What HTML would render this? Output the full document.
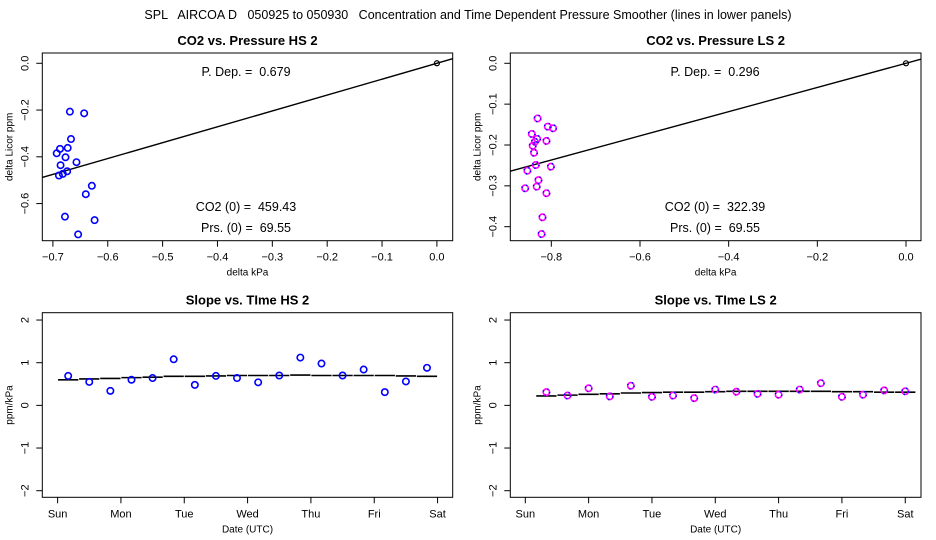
<!DOCTYPE html>
<html><head><meta charset="utf-8">
<style>
html,body{margin:0;padding:0;background:#fff;}
svg{display:block;font-family:"Liberation Sans",Arial,sans-serif;}
text{white-space:pre;}
</style></head>
<body>
<svg id="c" width="936" height="540" viewBox="0 0 936 540" xmlns="http://www.w3.org/2000/svg">
<text x="468" y="19" font-size="12.5" text-anchor="middle" xml:space="preserve">SPL   AIRCOA D   050925 to 050930   Concentration and Time Dependent Pressure Smoother (lines in lower panels)</text>
</svg>
<script>
// Panel 1: CO2 vs Pressure HS 2
const hsPx = [-0.669,-0.643,-0.667,-0.673,-0.687,-0.693,-0.677,-0.657,-0.686,-0.674,-0.682,-0.689,-0.629,-0.640,-0.678,-0.624,-0.654,0.0];
const hsPy = [-0.207,-0.214,-0.324,-0.362,-0.366,-0.385,-0.402,-0.423,-0.436,-0.462,-0.473,-0.480,-0.524,-0.560,-0.656,-0.671,-0.732,0.0];
const hsSlope = 0.679;
// Panel 2: CO2 vs Pressure LS 2
const lsPx = [-0.831,-0.808,-0.796,-0.844,-0.832,-0.811,-0.837,-0.842,-0.839,-0.801,-0.835,-0.854,-0.829,-0.859,-0.833,-0.811,-0.820,-0.822,0.0];
const lsPy = [-0.135,-0.155,-0.159,-0.173,-0.185,-0.190,-0.192,-0.202,-0.219,-0.253,-0.249,-0.263,-0.286,-0.306,-0.302,-0.318,-0.377,-0.418,0.0];
const lsSlope = 0.296;
// Panel 3: Slope vs Time HS 2
const hsDays = [0.167,0.5,0.833,1.167,1.5,1.833,2.167,2.5,2.833,3.167,3.5,3.833,4.167,4.5,4.833,5.167,5.5,5.833];
const hsSlopes = [0.69,0.55,0.34,0.60,0.64,1.08,0.48,0.69,0.64,0.54,0.70,1.12,0.98,0.70,0.84,0.31,0.56,0.88];
const hsSmooth = [0.60,0.62,0.63,0.65,0.66,0.68,0.68,0.69,0.70,0.70,0.70,0.71,0.70,0.70,0.70,0.70,0.69,0.68];
// Panel 4: Slope vs Time LS 2
const lsDays = [0.333,0.667,1.0,1.333,1.667,2.0,2.333,2.667,3.0,3.333,3.667,4.0,4.333,4.667,5.0,5.333,5.667,6.0];
const lsSlopes = [0.31,0.23,0.40,0.21,0.46,0.20,0.23,0.17,0.37,0.32,0.27,0.25,0.37,0.52,0.20,0.25,0.35,0.33];
const lsSmooth = [0.22,0.24,0.26,0.27,0.29,0.30,0.31,0.31,0.32,0.33,0.33,0.33,0.33,0.33,0.32,0.32,0.31,0.31];
const dayLabels = ["Sun","Mon","Tue","Wed","Thu","Fri","Sat"];
const hsXTicks = [-0.7,-0.6,-0.5,-0.4,-0.3,-0.2,-0.1,0.0];
const hsYTicks = [0.0,-0.2,-0.4,-0.6];
const lsXTicks = [-0.8,-0.6,-0.4,-0.2,0.0];
const lsYTicks = [0.0,-0.1,-0.2,-0.3,-0.4];
const slopeYTicks = [2,1,0,-1,-2];

const svg = document.getElementById('c');
const NS = 'http://www.w3.org/2000/svg';
function mk(tag, attrs, parent){
  const e = document.createElementNS(NS, tag);
  for (const k in attrs) e.setAttribute(k, attrs[k]);
  (parent||svg).appendChild(e);
  return e;
}
function txt(x,y,s,size,anchor,parent,extra){
  const t = mk('text',Object.assign({x:x,y:y,'font-size':size,'text-anchor':anchor||'middle'},extra||{}),parent);
  t.textContent = s; return t;
}
function panel(o){
  const g = mk('g',{});
  
  
  const sx = v => o.L + (v - o.xmin)/(o.xmax - o.xmin)*(o.R - o.L);
  const sy = v => o.B - (v - o.ymin)/(o.ymax - o.ymin)*(o.B - o.T);
  const box = mk('rect',{x:o.L,y:o.T,width:o.R-o.L,height:o.B-o.T,fill:'none',stroke:'#000','stroke-width':1},g);
  
  
  const tt = txt((o.L+o.R)/2, o.T-8, o.title, 13, 'middle', g, {'font-weight':'bold'});
  
  
  o.xt.forEach((v,i)=>{
    const x = sx(v);
    mk('line',{x1:x,x2:x,y1:o.B,y2:o.B+6,stroke:'#000'},g);
    const lbl = txt(x, o.B+20, o.xl[i], 11, 'middle', g);
    
    
  });
  const xa = txt((o.L+o.R)/2, o.B+35, o.xlab, 10, 'middle', g);
  
  
  o.yt.forEach((v,i)=>{
    const y = sy(v);
    mk('line',{x1:o.L-6,x2:o.L,y1:y,y2:y,stroke:'#000'},g);
    const lbl = txt(o.L-14, y, o.yl[i], 11, 'middle', g, {transform:`rotate(-90 ${o.L-14} ${y})`});
    
    
  });
  const ya = txt(o.L-30, (o.T+o.B)/2, o.ylab, 10, 'middle', g, {transform:`rotate(-90 ${o.L-30} ${(o.T+o.B)/2})`});
  
  
  return {g, sx, sy};
}
function pt(g,x,y,col){
  const c = mk('circle',{cx:x,cy:y,r:3.2,fill:'none',stroke:col,'stroke-width':1.6},g);
  
  
  return c;
}
function overlay(g,x,y){
  const c2 = mk('circle',{cx:x,cy:y,r:3.2,fill:'none',stroke:'#0000ff','stroke-width':1.6,'stroke-dasharray':'1.2 4'},g);
  
  
}
function scatterPanel(o, px, py, slope, col, ann){
  const p = panel(o);
  const clip = 'clip'+o.name;
  const cp = mk('clipPath',{id:clip},p.g);
  mk('rect',{x:o.L,y:o.T,width:o.R-o.L,height:o.B-o.T},cp);
  const ln = mk('line',{x1:p.sx(o.xmin),y1:p.sy(slope*o.xmin),x2:p.sx(o.xmax),y2:p.sy(slope*o.xmax),stroke:'#000','stroke-width':1.4,'clip-path':`url(#${clip})`},p.g);
  
  
  px.forEach((v,i)=>{
    const last = i===px.length-1;
    const c = pt(p.g, p.sx(v), p.sy(py[i]), last ? '#000' : col);
    if (last) { c.setAttribute('r', 2.5); c.setAttribute('stroke-width', 1.2); }
    else if (col==='#ff00ff') overlay(p.g, p.sx(v), p.sy(py[i]));
  });
  ann.forEach(a=>{
    const t = txt(a[0], a[1], a[2], 12.5, 'middle', p.g);
    
    
  });
}
function timePanel(o, days, vals, sm, col){
  const p = panel(o);
  sm.forEach((v,i)=>{
    const s = mk('line',{x1:p.sx(days[i]-0.16),x2:p.sx(days[i]+0.16),y1:p.sy(v),y2:p.sy(v),stroke:'#000','stroke-width':1.6},p.g);
    
    
  });
  days.forEach((d,i)=>{
    pt(p.g, p.sx(d), p.sy(vals[i]), col);
    if (col==='#ff00ff') overlay(p.g, p.sx(d), p.sy(vals[i]));
  });
}
const fmt1 = v => (v<0?'\u2212':'') + Math.abs(v).toFixed(1);
scatterPanel({name:'hs-pressure-panel',title:'CO2 vs. Pressure HS 2',L:42.3,R:452.7,T:53,B:240.7,xmin:-0.7193,xmax:0.0288,ymin:-0.7588,ymax:0.0440,
  xt:hsXTicks,xl:hsXTicks.map(fmt1),yt:hsYTicks,yl:hsYTicks.map(fmt1),xlab:'delta kPa',ylab:'delta Licor ppm'},
  hsPx,hsPy,hsSlope,'#0000ff',[[246,76,'P. Dep. =  0.679'],[246,211,'CO2 (0) =  459.43'],[246,232,'Prs. (0) =  69.55']]);
scatterPanel({name:'ls-pressure-panel',title:'CO2 vs. Pressure LS 2',L:510.3,R:921,T:53,B:240.7,xmin:-0.8925,xmax:0.0338,ymin:-0.4343,ymax:0.0252,
  xt:lsXTicks,xl:lsXTicks.map(fmt1),yt:lsYTicks,yl:lsYTicks.map(fmt1),xlab:'delta kPa',ylab:'delta Licor ppm'},
  lsPx,lsPy,lsSlope,'#ff00ff',[[715,76,'P. Dep. =  0.296'],[715,211,'CO2 (0) =  322.39'],[715,232,'Prs. (0) =  69.55']]);
const fmt0 = v => (v<0?'\u2212':'') + Math.abs(v);
timePanel({name:'hs-slope-time-panel',title:'Slope vs. TIme HS 2',L:42.3,R:452.7,T:312.7,B:497.3,xmin:-0.2417,xmax:6.239,ymin:-2.1547,ymax:2.1719,
  xt:[0,1,2,3,4,5,6],xl:dayLabels,yt:slopeYTicks,yl:slopeYTicks.map(fmt0),xlab:'Date (UTC)',ylab:'ppm/kPa'},
  hsDays,hsSlopes,hsSmooth,'#0000ff');
timePanel({name:'ls-slope-time-panel',title:'Slope vs. TIme LS 2',L:510.3,R:921,T:312.7,B:497.3,xmin:-0.2368,xmax:6.2487,ymin:-2.1547,ymax:2.1719,
  xt:[0,1,2,3,4,5,6],xl:dayLabels,yt:slopeYTicks,yl:slopeYTicks.map(fmt0),xlab:'Date (UTC)',ylab:'ppm/kPa'},
  lsDays,lsSlopes,lsSmooth,'#ff00ff');
</script>
</body></html>
